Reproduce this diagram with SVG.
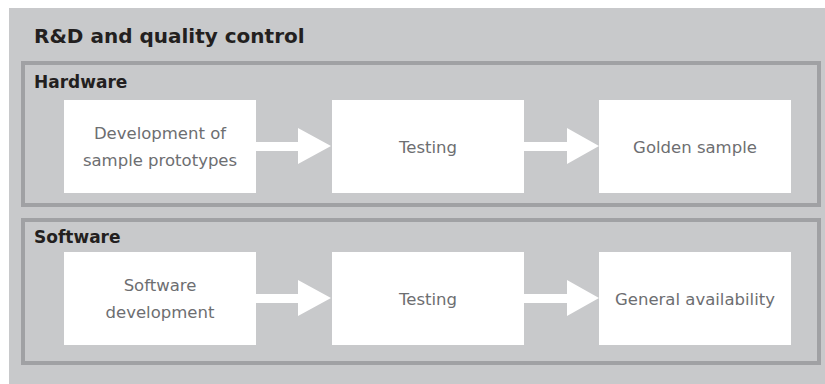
<svg xmlns="http://www.w3.org/2000/svg" width="825" height="384" viewBox="0 0 825 384">
<style>
.panel{fill:#c8c9cb;stroke:#a0a1a4;stroke-width:4}
.box{fill:#ffffff}
.t{font-family:"DejaVu Sans","Liberation Sans",sans-serif;font-size:16.5px;fill:#6d6e71;text-anchor:middle}
.h{font-family:"DejaVu Sans","Liberation Sans",sans-serif;font-weight:bold;fill:#231f20}
.arr{fill:#ffffff}
</style>
<rect x="0" y="0" width="825" height="384" fill="#ffffff"/>
<g id="rd">
<rect x="9" y="8" width="816" height="376" fill="#c8c9cb"/>
<text class="h" x="34" y="43" font-size="20">R&amp;D and quality control</text>
</g>
<g id="hardware">
<rect class="panel" x="23" y="63" width="796" height="142"/>
<text class="h" x="34" y="88" font-size="17">Hardware</text>
</g>
<g id="software">
<rect class="panel" x="23" y="220" width="796" height="143"/>
<text class="h" x="34" y="243" font-size="17">Software</text>
</g>
<g id="hw-dev">
<rect class="box" x="64" y="100" width="192" height="93"/>
<text class="t" x="160" y="139">Development of</text>
<text class="t" x="160" y="166">sample prototypes</text>
</g>
<g id="hw-test">
<rect class="box" x="332" y="100" width="192" height="93"/>
<text class="t" x="428" y="153">Testing</text>
</g>
<g id="hw-golden">
<rect class="box" x="599" y="100" width="192" height="93"/>
<text class="t" x="695" y="153">Golden sample</text>
</g>
<g id="sw-dev">
<rect class="box" x="64" y="252" width="192" height="93"/>
<text class="t" x="160" y="291">Software</text>
<text class="t" x="160" y="318">development</text>
</g>
<g id="sw-test">
<rect class="box" x="332" y="252" width="192" height="93"/>
<text class="t" x="428" y="305">Testing</text>
</g>
<g id="sw-ga">
<rect class="box" x="599" y="252" width="192" height="93"/>
<text class="t" x="695" y="305">General availability</text>
</g>
<g id="connectors">
<polygon class="arr" points="256,142 298,142 298,128 331,146 298,164 298,151 256,151"/>
<polygon class="arr" points="524,142 567,142 567,128 599,146 567,164 567,151 524,151"/>
<polygon class="arr" points="256,294 298,294 298,280 331,298 298,316 298,303 256,303"/>
<polygon class="arr" points="524,294 567,294 567,280 599,298 567,316 567,303 524,303"/>
</g>
</svg>
